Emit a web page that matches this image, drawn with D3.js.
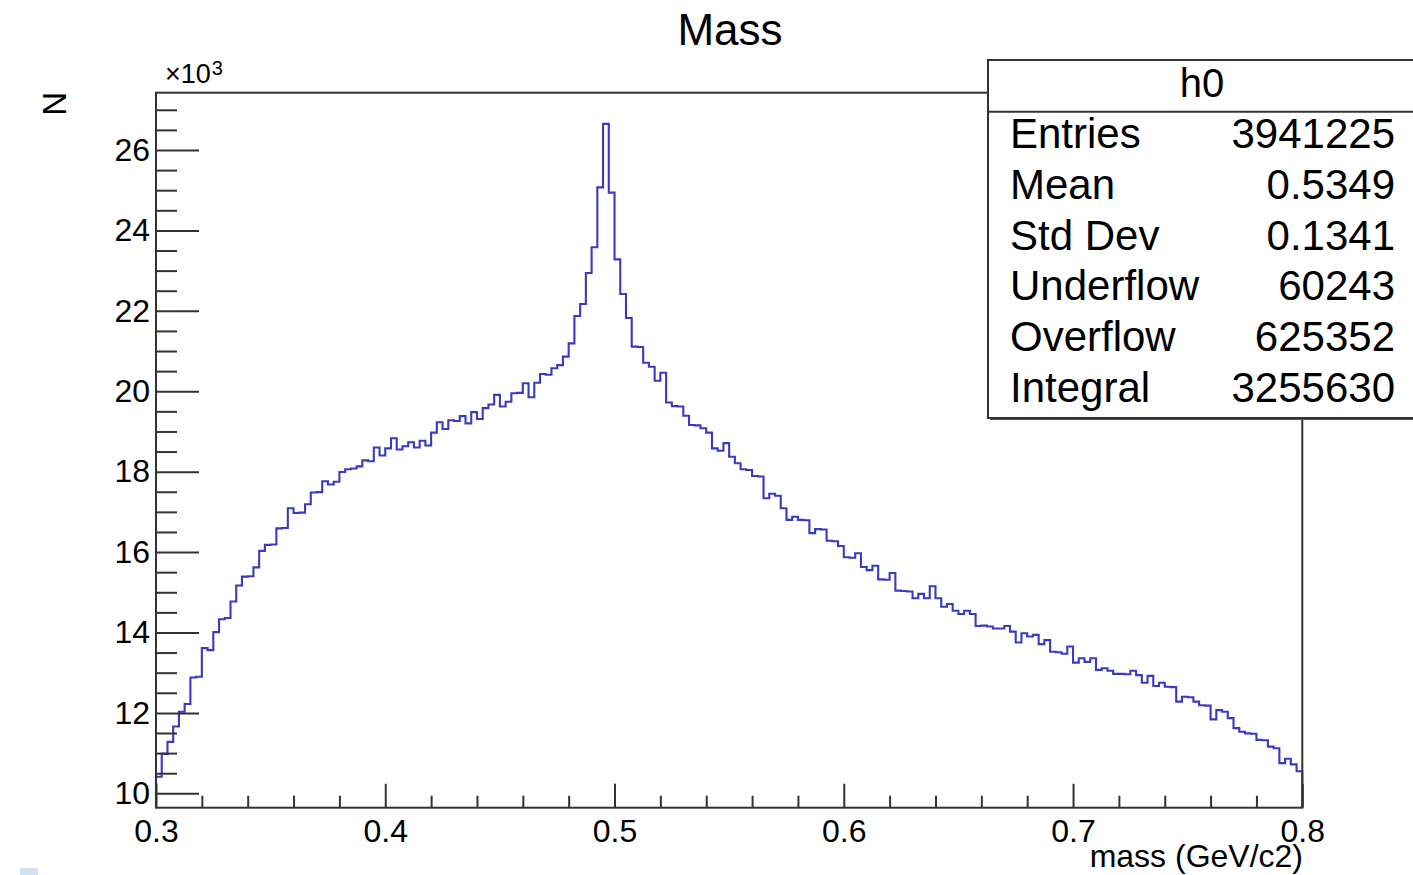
<!DOCTYPE html>
<html>
<head>
<meta charset="utf-8">
<title>Mass</title>
<script src="https://cdn.jsdelivr.net/npm/d3@7"></script>
<style>
  body { margin: 0; background: #ffffff; overflow: hidden; }
  svg text { font-family: 'Liberation Sans', Arial, Helvetica, sans-serif; fill: #000000; }
</style>
</head>
<body>
<div id="content"></div>
<script>
// Histogram h0: 200 bins between 0.3 and 0.8 GeV/c2, bin contents in units of 10^3
const massRange = [0.3, 0.8];
const binCounts = [
  10.41, 10.98, 11.28, 11.66, 12.03, 12.22, 12.88, 12.90, 13.61, 13.56,
  14.01, 14.33, 14.36, 14.77, 15.17, 15.39, 15.40, 15.62, 16.03, 16.18,
  16.19, 16.59, 16.60, 17.09, 16.97, 16.98, 17.19, 17.48, 17.49, 17.76,
  17.68, 17.75, 17.99, 18.06, 18.08, 18.13, 18.28, 18.26, 18.60, 18.40,
  18.58, 18.83, 18.55, 18.63, 18.73, 18.60, 18.77, 18.65, 18.97, 19.23,
  19.06, 19.28, 19.26, 19.38, 19.20, 19.48, 19.31, 19.58, 19.67, 19.91,
  19.62, 19.74, 19.95, 19.96, 20.20, 19.85, 20.21, 20.43, 20.41, 20.57,
  20.65, 20.86, 21.19, 21.87, 22.17, 22.94, 23.58, 25.07, 26.65, 24.94,
  23.28, 22.42, 21.82, 21.11, 21.10, 20.71, 20.61, 20.26, 20.46, 19.72,
  19.63, 19.62, 19.39, 19.16, 19.15, 19.08, 18.97, 18.58, 18.52, 18.71,
  18.37, 18.21, 18.06, 18.04, 17.89, 17.88, 17.34, 17.45, 17.40, 17.09,
  16.80, 16.88, 16.80, 16.79, 16.47, 16.57, 16.56, 16.28, 16.27, 16.15,
  15.87, 15.86, 15.97, 15.63, 15.55, 15.66, 15.32, 15.31, 15.48, 15.04,
  15.03, 15.02, 14.85, 14.96, 14.85, 15.15, 14.85, 14.64, 14.71, 14.54,
  14.46, 14.54, 14.46, 14.16, 14.17, 14.15, 14.10, 14.10, 14.16, 14.02,
  13.75, 13.98, 13.90, 13.94, 13.71, 13.81, 13.52, 13.51, 13.47, 13.65,
  13.25, 13.36, 13.27, 13.36, 13.07, 13.11, 13.05, 12.97, 12.97, 12.96,
  13.05, 12.94, 12.75, 12.92, 12.67, 12.75, 12.65, 12.64, 12.28, 12.40,
  12.39, 12.28, 12.19, 12.18, 11.84, 12.07, 12.03, 11.87, 11.62, 11.53,
  11.49, 11.48, 11.33, 11.32, 11.16, 11.12, 10.75, 10.86, 10.72, 10.55
];

// Axis ranges and tick labels
const yRange = [9.642, 27.425];
const xMajorTicks = [0.3, 0.4, 0.5, 0.6, 0.7, 0.8];
const xTickLabels = ['0.3', '0.4', '0.5', '0.6', '0.7', '0.8'];
const yMajorTicks = [10, 12, 14, 16, 18, 20, 22, 24, 26];

// Statistics box
const statNames = ['Entries', 'Mean', 'Std Dev', 'Underflow', 'Overflow', 'Integral'];
const statValues = ['3941225', '0.5349', '0.1341', '60243', '625352', '3255630'];

const drawHistogram = () => {
    const width = 1413;
    const height = 875;
    const frame = { left: 156, right: 1302.3, top: 92.7, bottom: 807.7 };
    const axisColor = '#333333';
    const fontFamily = "'Liberation Sans', Arial, Helvetica, sans-serif";

    const svg = d3.select('#content')
                  .append('svg')
                  .attr('width', width)
                  .attr('height', height)
                  .style('display', 'block')
                  .style('background-color', '#ffffff');

    const x = d3.scaleLinear().domain(massRange).range([frame.left, frame.right]);
    const y = d3.scaleLinear().domain(yRange).range([frame.bottom, frame.top]);

    // Histogram outline, drawn as steps with the ends dropped to the frame
    const binWidth = (massRange[1] - massRange[0]) / binCounts.length;
    const points = [[massRange[0], yRange[0]]]
        .concat(binCounts.map((c, i) => [massRange[0] + i * binWidth, c]))
        .concat([[massRange[1], binCounts[binCounts.length - 1]], [massRange[1], yRange[0]]]);

    const stepLine = d3.line()
                       .x(d => x(d[0]))
                       .y(d => y(d[1]))
                       .curve(d3.curveStepAfter);

    svg.append('path')
       .datum(points)
       .attr('d', stepLine)
       .attr('fill', 'none')
       .attr('stroke', '#3a3ac0')
       .attr('stroke-width', 2.1);

    // Frame
    svg.append('rect')
       .attr('x', frame.left)
       .attr('y', frame.top)
       .attr('width', frame.right - frame.left)
       .attr('height', frame.bottom - frame.top)
       .attr('fill', 'none')
       .attr('stroke', axisColor)
       .attr('stroke-width', 2);

    // Tick helper: removes domain line and styles the tick lines
    const styleTicks = g => {
        g.select('.domain').remove();
        g.selectAll('line').attr('stroke-width', 2);
    };

    // Y ticks point into the frame (right side of the axis)
    const yMinorTicks = d3.range(10, 27.01, 0.5).filter(v => v % 2 !== 0 && v <= yRange[1]);

    svg.append('g')
       .attr('transform', `translate(${frame.left},0)`)
       .attr('color', axisColor)
       .call(d3.axisRight(y).tickValues(yMinorTicks).tickSize(21).tickFormat(''))
       .call(styleTicks);

    svg.append('g')
       .attr('transform', `translate(${frame.left},0)`)
       .attr('color', axisColor)
       .call(d3.axisRight(y).tickValues(yMajorTicks).tickSize(43).tickFormat(''))
       .call(styleTicks);

    svg.append('g')
       .attr('transform', `translate(${frame.left},0)`)
       .call(d3.axisLeft(y).tickValues(yMajorTicks).tickSize(0).tickPadding(6))
       .call(g => g.select('.domain').remove())
       .selectAll('text')
       .attr('font-size', 32)
       .attr('font-family', fontFamily)
       .attr('fill', '#000000');

    // X ticks point up into the frame
    const xMinorTicks = d3.range(0, 26).map(i => 0.3 + i * 0.02).filter((v, i) => i % 5 !== 0);

    svg.append('g')
       .attr('transform', `translate(0,${frame.bottom})`)
       .attr('color', axisColor)
       .call(d3.axisTop(x).tickValues(xMinorTicks).tickSize(12).tickFormat(''))
       .call(styleTicks);

    svg.append('g')
       .attr('transform', `translate(0,${frame.bottom})`)
       .attr('color', axisColor)
       .call(d3.axisTop(x).tickValues(xMajorTicks).tickSize(24).tickFormat(''))
       .call(styleTicks);

    svg.append('g')
       .attr('transform', `translate(0,${frame.bottom})`)
       .call(d3.axisBottom(x).tickValues(xMajorTicks).tickSize(0).tickPadding(12)
               .tickFormat((d, i) => xTickLabels[i]))
       .call(g => g.select('.domain').remove())
       .selectAll('text')
       .attr('font-size', 32)
       .attr('font-family', fontFamily)
       .attr('fill', '#000000');

    // Exponent of the y axis
    const expo = svg.append('text')
                    .attr('x', 165)
                    .attr('y', 83)
                    .attr('font-size', 27);
    expo.append('tspan').text('×10');
    expo.append('tspan').attr('font-size', 20).attr('dy', -8).attr('dx', 1).text('3');

    // Axis titles
    svg.append('text')
       .attr('transform', 'translate(66,92) rotate(-90)')
       .attr('text-anchor', 'end')
       .attr('font-size', 33)
       .text('N');

    svg.append('text')
       .attr('x', 1303)
       .attr('y', 867)
       .attr('text-anchor', 'end')
       .attr('font-size', 32)
       .text('mass (GeV/c2)');

    // Title
    svg.append('text')
       .attr('x', 730)
       .attr('y', 45)
       .attr('text-anchor', 'middle')
       .attr('font-size', 44)
       .text('Mass');

    // Statistics box
    const box = { left: 988, top: 60, bottom: 418, header: 111.7 };

    svg.append('rect')
       .attr('x', box.left + 2)
       .attr('y', box.top + 2)
       .attr('width', 450)
       .attr('height', box.bottom - box.top)
       .attr('fill', '#555555');

    svg.append('rect')
       .attr('x', box.left)
       .attr('y', box.top)
       .attr('width', 450)
       .attr('height', box.bottom - box.top)
       .attr('fill', '#ffffff')
       .attr('stroke', axisColor)
       .attr('stroke-width', 2);

    svg.append('line')
       .attr('x1', box.left)
       .attr('x2', width)
       .attr('y1', box.header)
       .attr('y2', box.header)
       .attr('stroke', axisColor)
       .attr('stroke-width', 2);

    svg.append('text')
       .attr('x', 1202)
       .attr('y', 97)
       .attr('text-anchor', 'middle')
       .attr('font-size', 40)
       .text('h0');

    const rowY = d3.scalePoint().domain(statNames).range([148, 402]);

    svg.append('g')
       .selectAll('text')
       .data(statNames)
       .enter()
       .append('text')
       .attr('x', 1010)
       .attr('y', d => rowY(d))
       .attr('font-size', 42)
       .text(d => d);

    svg.append('g')
       .selectAll('text')
       .data(statValues)
       .enter()
       .append('text')
       .attr('x', 1395)
       .attr('y', (d, i) => rowY(statNames[i]))
       .attr('text-anchor', 'end')
       .attr('font-size', 42)
       .text(d => d);

    // Small light-blue mark in the bottom-left corner of the screenshot
    svg.append('rect')
       .attr('x', 20)
       .attr('y', 868)
       .attr('width', 18)
       .attr('height', 7)
       .attr('fill', '#d3e2f1');
};

document.addEventListener('DOMContentLoaded', () => {
    drawHistogram();
});
</script>
</body>
</html>
